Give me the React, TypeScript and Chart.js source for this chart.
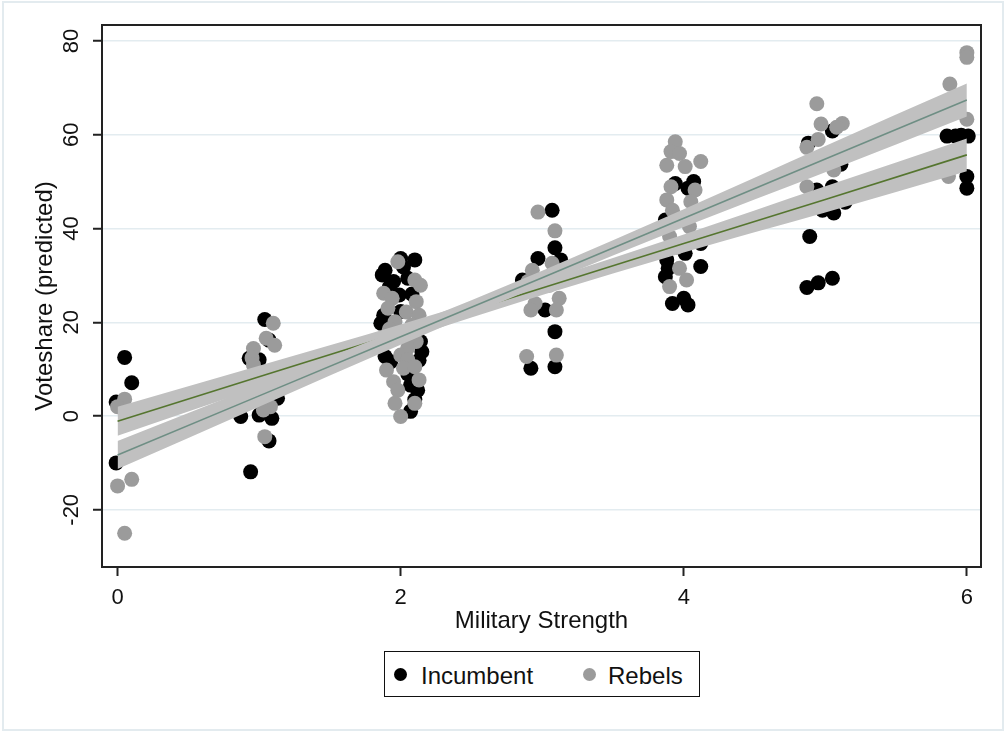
import React, { useEffect, useRef } from "react";
import { Chart, registerables } from "chart.js";

Chart.register(...registerables);

// Axis settings
const X_MIN = -0.11;
const X_MAX = 6.1;
const Y_MIN = -32.2;
const Y_MAX = 83.4;
const X_TICKS = [0, 2, 4, 6];
const Y_TICKS = [-20, 0, 20, 40, 60, 80];

// Jittered predicted vote shares by military strength
const incumbentPoints: [number, number][] = [
  [0.05, 12.5], [0.1, 7.1], [-0.01, 3.0], [-0.01, -10.0],
  [1.04, 20.6], [1.07, 16.2], [0.93, 12.3], [1.0, 12.0], [1.13, 3.8], [0.87, -0.1],
  [1.0, 0.2], [1.09, -0.5], [1.07, -5.3], [0.94, -11.9],
  [2.0, 33.6], [2.1, 33.3], [1.89, 31.1], [1.87, 30.1], [2.02, 31.8], [1.95, 28.7],
  [2.05, 29.4], [1.92, 27.5], [2.08, 26.0], [1.99, 25.8], [2.0, 22.3], [1.88, 21.5],
  [1.86, 19.8], [2.12, 19.0], [1.9, 16.5], [2.14, 15.9], [2.15, 13.7], [1.89, 12.7],
  [1.93, 11.6], [2.13, 11.9], [2.05, 9.0], [2.07, 6.6], [2.12, 5.5], [2.1, 3.5], [2.07, 1.0],
  [3.07, 43.9], [3.09, 35.9], [3.13, 33.3], [2.97, 33.6], [2.86, 29.0], [3.02, 22.6],
  [3.09, 18.0], [2.92, 10.2], [3.09, 10.5],
  [3.94, 49.6], [4.07, 50.0], [4.03, 48.6], [3.87, 41.8], [4.12, 36.8], [4.01, 34.7],
  [3.88, 33.3], [4.12, 31.9], [3.89, 31.5], [3.87, 29.7], [4.0, 25.1], [3.92, 24.0], [4.03, 23.7],
  [5.05, 60.8], [4.88, 58.2], [5.11, 53.7], [4.94, 48.2], [5.05, 48.9], [5.14, 45.6],
  [4.98, 43.9], [5.06, 43.3], [4.89, 38.3], [4.87, 27.4], [4.95, 28.4], [5.05, 29.4],
  [5.86, 59.7], [5.92, 59.7], [5.96, 59.9], [6.01, 59.7], [6.0, 51.1], [6.0, 48.6],
];

const rebelsPoints: [number, number][] = [
  [0.05, 3.6], [0.0, 2.0], [0.0, -14.9], [0.1, -13.5], [0.05, -25.0],
  [1.1, 19.8], [1.05, 16.6], [1.11, 15.1], [0.96, 14.4], [0.95, 12.4], [0.96, 10.9],
  [1.02, 9.0], [1.06, 6.5], [1.0, 4.5], [1.08, 2.0], [1.03, 1.3], [1.04, -4.4],
  [1.98, 32.9], [2.1, 29.0], [2.14, 27.9], [1.88, 26.2], [1.94, 25.1], [2.11, 24.4],
  [1.91, 23.0], [2.04, 22.2], [2.13, 21.5], [1.96, 20.1], [2.08, 19.4], [1.92, 18.5],
  [1.98, 17.3], [2.11, 15.9], [2.05, 14.5], [2.0, 13.0], [2.05, 12.0], [1.9, 9.8],
  [2.02, 10.2], [2.1, 10.5], [1.95, 7.3], [2.13, 7.7], [1.98, 5.5], [1.96, 2.7],
  [2.1, 2.7], [2.0, -0.1],
  [2.97, 43.5], [3.09, 39.5], [3.07, 32.6], [2.93, 31.1], [2.9, 28.7], [3.05, 27.9],
  [3.12, 25.1], [2.95, 24.0], [2.92, 22.6], [3.1, 22.6], [2.89, 12.7], [3.1, 13.0],
  [3.94, 58.5], [3.91, 56.4], [3.97, 56.0], [4.12, 54.3], [3.88, 53.5], [4.01, 53.2],
  [3.91, 48.9], [4.08, 48.2], [3.88, 46.1], [4.05, 45.7], [3.92, 43.9], [3.97, 42.2],
  [4.04, 40.4], [3.9, 38.3], [3.95, 36.0], [3.97, 31.5], [4.02, 29.0], [3.9, 27.6],
  [4.94, 66.6], [4.97, 62.3], [5.12, 62.4], [5.08, 61.6], [4.95, 59.0], [4.87, 57.3],
  [5.06, 52.5], [4.87, 48.9],
  [6.0, 77.5], [6.0, 76.5], [5.88, 70.8], [6.0, 63.3], [5.87, 51.1],
];

// Linear fits with 95% confidence bands
const FIT_X = [0, 1, 2, 3, 4, 5, 6];
const incumbentFit = [-1.1, 8.4, 17.8, 27.3, 36.8, 46.2, 55.7];
const incumbentUpper = [2.0, 10.7, 19.5, 28.8, 38.7, 49.0, 59.2];
const incumbentLower = [-4.2, 6.1, 16.1, 25.8, 34.9, 43.4, 52.2];
const rebelsFit = [-8.3, 4.3, 16.9, 29.5, 42.2, 54.8, 67.4];
const rebelsUpper = [-5.3, 6.6, 18.6, 31.0, 44.1, 57.6, 70.9];
const rebelsLower = [-11.3, 2.0, 15.2, 28.0, 40.3, 52.0, 63.9];

const FONT = '"Liberation Sans", Arial, Helvetica, sans-serif';
const BAND = "#c0c0c0";

const toXY = (ys: number[]) => ys.map((y, i) => ({ x: FIT_X[i], y }));
const toPts = (pts: [number, number][]) => pts.map(([x, y]) => ({ x, y }));

const framePlugin = {
  id: "frame",
  afterDraw(chart: any) {
    const { ctx, chartArea } = chart;
    ctx.save();
    ctx.strokeStyle = "#222";
    ctx.lineWidth = 2;
    ctx.strokeRect(chartArea.left, chartArea.top, chartArea.right - chartArea.left, chartArea.bottom - chartArea.top);
    ctx.restore();
  },
};

export default function App() {
  const ref = useRef<HTMLCanvasElement>(null);

  useEffect(() => {
    if (!ref.current) return;
    const band = (data: number[], fill: any, order: number) => ({
      type: "line" as const,
      data: toXY(data),
      borderWidth: 0,
      borderColor: "rgba(0,0,0,0)",
      backgroundColor: BAND,
      pointRadius: 0,
      fill,
      order,
      cubicInterpolationMode: "monotone" as const,
    });
    const fitLine = (data: number[], color: string, order: number) => ({
      type: "line" as const,
      data: toXY(data),
      borderWidth: 1.6,
      borderColor: color,
      pointRadius: 0,
      fill: false,
      order,
    });
    const chart = new Chart(ref.current, {
      type: "scatter",
      data: {
        datasets: [
          {
            label: "Incumbent",
            data: toPts(incumbentPoints),
            backgroundColor: "#000",
            borderWidth: 0,
            pointRadius: 7.5,
            order: 6,
          },
          {
            label: "Rebels",
            data: toPts(rebelsPoints),
            backgroundColor: "#9b9b9b",
            borderWidth: 0,
            pointRadius: 7.5,
            order: 5,
          },
          band(incumbentUpper, 3, 4) as any,
          band(incumbentLower, false, 4) as any,
          fitLine(incumbentFit, "#55752f", 3) as any,
          band(rebelsUpper, 6, 2) as any,
          band(rebelsLower, false, 2) as any,
          fitLine(rebelsFit, "#6e8e84", 1) as any,
        ],
      },
      options: {
        responsive: false,
        animation: false,
        layout: { padding: { top: 25, right: 25, left: 0, bottom: 0 } },
        plugins: {
          legend: { display: false },
          tooltip: { enabled: false },
          filler: { propagate: false },
        },
        scales: {
          x: {
            type: "linear",
            min: X_MIN,
            max: X_MAX,
            afterBuildTicks: (s: any) => {
              s.ticks = X_TICKS.map((v) => ({ value: v }));
            },
            afterFit: (s: any) => {
              s.height = 165;
            },
            grid: {
              drawOnChartArea: false,
              drawTicks: true,
              tickLength: 9,
              tickWidth: 2,
              tickColor: "#222",
            },
            border: { display: false },
            ticks: {
              font: { family: FONT, size: 22 },
              color: "#111",
              padding: 9,
              maxRotation: 0,
              autoSkip: false,
              callback: (v: any) => String(v),
            },
            title: {
              display: true,
              text: "Military Strength",
              font: { family: FONT, size: 24 },
              color: "#111",
              padding: { top: 0, bottom: 96 },
            },
          },
          y: {
            type: "linear",
            min: Y_MIN,
            max: Y_MAX,
            afterBuildTicks: (s: any) => {
              s.ticks = Y_TICKS.map((v) => ({ value: v }));
            },
            afterFit: (s: any) => {
              s.width = 102;
            },
            grid: {
              color: "#e3ecf0",
              lineWidth: 1.5,
              drawTicks: true,
              tickLength: 9,
              tickWidth: 2,
              tickColor: "#222",
            },
            border: { display: false },
            ticks: {
              font: { family: FONT, size: 22 },
              color: "#111",
              padding: 5,
              minRotation: 90,
              maxRotation: 90,
              crossAlign: "center",
              autoSkip: false,
              callback: (v: any) => String(v),
            },
            title: {
              display: true,
              text: "Voteshare (predicted)",
              font: { family: FONT, size: 24 },
              color: "#111",
              padding: { top: 30.6, bottom: 0 },
            },
          },
        },
      },
      plugins: [framePlugin],
    });
    return () => chart.destroy();
  }, []);

  const legendText: React.CSSProperties = {
    position: "absolute",
    top: 661,
    height: 30,
    lineHeight: "30px",
    fontFamily: FONT,
    fontSize: 24,
    color: "#111",
    whiteSpace: "nowrap",
  };
  const dot = (left: number, color: string): React.CSSProperties => ({
    position: "absolute",
    left: left - 6.5,
    top: 674 - 6.5,
    width: 13,
    height: 13,
    borderRadius: "50%",
    background: color,
  });

  return (
    <div style={{ position: "fixed", left: 0, top: 0, width: 1006, height: 732, background: "#fff" }}>
      <div
        style={{
          position: "absolute",
          left: 2,
          top: 1,
          width: 1002,
          height: 730,
          border: "2px solid #e3ebef",
          boxSizing: "border-box",
        }}
      />
      <canvas ref={ref} width={1006} height={732} style={{ position: "absolute", left: 0, top: 0 }} />
      <div
        style={{
          position: "absolute",
          left: 384,
          top: 651,
          width: 316,
          height: 46,
          border: "1.5px solid #111",
          boxSizing: "border-box",
          background: "#fff",
        }}
      />
      <div style={dot(400, "#000")} />
      <div style={{ ...legendText, left: 421 }}>Incumbent</div>
      <div style={dot(589, "#9b9b9b")} />
      <div style={{ ...legendText, left: 608 }}>Rebels</div>
    </div>
  );
}
